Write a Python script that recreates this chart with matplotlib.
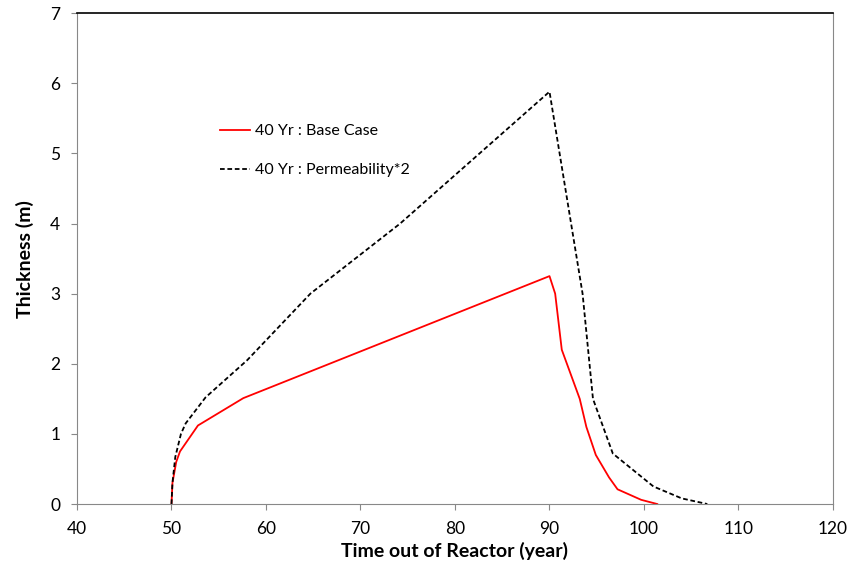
import matplotlib.pyplot as plt

plt.rcParams['font.family'] = ['Lato', 'DejaVu Sans']

# 40 Yr base case
base_x = [50, 50.1, 50.5, 50.9, 52.8, 57.6, 90, 90.6, 91.3, 93.2, 93.9, 94.9, 96.3, 97.2, 99.7, 101.4]
base_y = [0, 0.3, 0.6, 0.75, 1.12, 1.51, 3.25, 3.0, 2.2, 1.5, 1.1, 0.7, 0.38, 0.21, 0.06, 0]

# 40 Yr permeability*2
perm_x = [50, 50.1, 50.4, 51.0, 51.5, 53.6, 58.0, 64.7, 74.2, 90, 93.5, 94.6, 96.7, 101, 104, 106.7]
perm_y = [0, 0.3, 0.67, 1.0, 1.15, 1.52, 2.05, 3.0, 4.0, 5.88, 3.0, 1.5, 0.72, 0.25, 0.08, 0]

fig = plt.figure(figsize=(8.48, 5.71), dpi=100)
ax = fig.add_axes([0.0908, 0.1173, 0.8915, 0.8597])

ax.plot(base_x, base_y, color="#ff0000", lw=1.3, label="40 Yr : Base Case")
ax.plot(perm_x, perm_y, color="black", lw=1.3, ls=(0, (2.6, 1.5)), label="40 Yr : Permeability*2")

ax.set_xlim(40, 120)
ax.set_ylim(0, 7)
ax.set_xticks(range(40, 121, 10))
ax.set_yticks(range(0, 8))

for side in ["left", "bottom", "right"]:
    ax.spines[side].set_color("#888888")
ax.spines["top"].set_color("black")
ax.spines["top"].set_linewidth(1.2)
ax.tick_params(direction="out", length=4, color="#888888", labelsize=12.5, pad=8)

ax.set_xlabel("Time out of Reactor (year)", fontsize=14, fontweight="bold", labelpad=4)
ax.set_ylabel("Thickness (m)", fontsize=14, fontweight="bold", labelpad=12)

ax.legend(loc="center left", bbox_to_anchor=(0.189, 0.72), frameon=False, fontsize=11.5,
          borderpad=0, borderaxespad=0,
          handlelength=1.9, handletextpad=0.3, labelspacing=1.55)

fig.savefig("out.png", dpi=100)
